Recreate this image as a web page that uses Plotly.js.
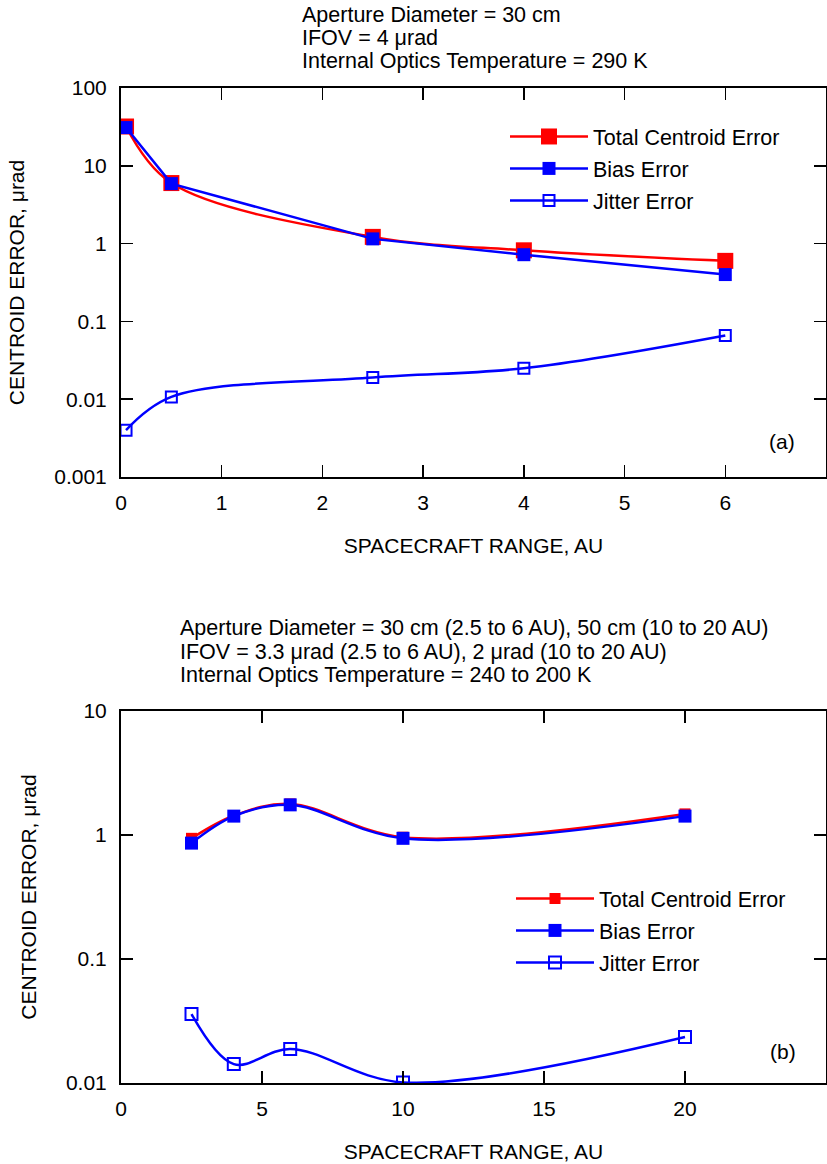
<!DOCTYPE html>
<html><head><meta charset="utf-8">
<script src="https://cdn.plot.ly/plotly-3.0.1.min.js"></script>
<style>body{margin:0;padding:0;background:#fff}#chart{width:827px;height:1164px}</style>
</head><body><div id="chart"></div>
<script>
// Panel (a)
const rangeA = [0.05, 0.5, 2.5, 4, 6];
const totalA = [32, 6.0, 1.22, 0.82, 0.60];
const biasA = [31, 5.9, 1.15, 0.72, 0.40];
const jitterA = [0.004, 0.0107, 0.019, 0.025, 0.066];
// Panel (b)
const rangeB = [2.5, 4, 6, 10, 20];
const totalB = [0.94, 1.43, 1.78, 0.96, 1.48];
const biasB = [0.86, 1.42, 1.75, 0.94, 1.42];
const jitterB = [0.036, 0.0142, 0.0188, 0.0101, 0.0235];

const seriesNames = ['Total Centroid Error', 'Bias Error', 'Jitter Error'];
const xTicksA = [0,1,2,3,4,5,6,7];
const yTicksA = [0.001,0.01,0.1,1,10,100];
const yTickTextA = ['0.001','0.01','0.1','1','10','100'];
const xTicksB = [0,5,10,15,20,25];
const yTicksB = [0.01,0.1,1,10];
const yTickTextB = ['0.01','0.1','1','10'];
const titleA = ['Aperture Diameter = 30 cm','IFOV = 4 \u03bcrad','Internal Optics Temperature = 290 K'];
const titleB = ['Aperture Diameter = 30 cm (2.5 to 6 AU), 50 cm (10 to 20 AU)','IFOV = 3.3 \u03bcrad (2.5 to 6 AU), 2 \u03bcrad (10 to 20 AU)','Internal Optics Temperature = 240 to 200 K'];
const xTitle = 'SPACECRAFT RANGE, AU';
const yTitle = 'CENTROID ERROR, \u03bcrad';

const W = 827, H = 1164;
const FONT = 'Liberation Sans, Arial, Helvetica, sans-serif';
const FS = 21;     // ticks & axis titles
const FT = 21.5;   // header text & legend
const RED = '#ff0000', BLUE = '#0000ff';

const traces = [
  {x: rangeA, y: totalA, name: seriesNames[0], mode:'lines+markers', xaxis:'x', yaxis:'y', legend:'legend', legendgroup:'a1',
   line:{color:RED, width:2.5, shape:'spline'}, marker:{symbol:'square', size:16, color:RED}},
  {x: rangeA, y: biasA, name: seriesNames[1], mode:'lines+markers', xaxis:'x', yaxis:'y', legend:'legend', legendgroup:'a2',
   line:{color:BLUE, width:2.5}, marker:{symbol:'square', size:13, color:BLUE}},
  {x: rangeA, y: jitterA, name: seriesNames[2], mode:'lines+markers', xaxis:'x', yaxis:'y', legend:'legend', legendgroup:'a3',
   line:{color:BLUE, width:2.5, shape:'spline'}, marker:{symbol:'square-open', size:11, color:BLUE, line:{width:2}}},
  {x: rangeB, y: totalB, name: seriesNames[0], mode:'lines+markers', xaxis:'x2', yaxis:'y2', legend:'legend2', legendgroup:'b1',
   line:{color:RED, width:2.5, shape:'spline'}, marker:{symbol:'square', size:11, color:RED}},
  {x: rangeB, y: biasB, name: seriesNames[1], mode:'lines+markers', xaxis:'x2', yaxis:'y2', legend:'legend2', legendgroup:'b2',
   line:{color:BLUE, width:2.5, shape:'spline'}, marker:{symbol:'square', size:13, color:BLUE}},
  {x: rangeB, y: jitterB, name: seriesNames[2], mode:'lines+markers', xaxis:'x2', yaxis:'y2', legend:'legend2', legendgroup:'b3',
   line:{color:BLUE, width:2.5, shape:'spline'}, marker:{symbol:'square-open', size:12, color:BLUE, line:{width:2}}}
];

const xl = 121/W, xr = 826/W;
function yd(top, bottom){ return [1-bottom/H, 1-top/H]; }

const axBase = {showline:true, linecolor:'#000', linewidth:2, mirror:'ticks', ticks:'inside', ticklen:12, tickwidth:1.5, tickcolor:'#000',
  showgrid:false, zeroline:false, tickfont:{family:FONT, size:FS, color:'#000'}, fixedrange:true};

const layout = {
  width:W, height:H, margin:{l:0,r:0,t:0,b:0}, paper_bgcolor:'#fff', plot_bgcolor:'#fff', showlegend:true,
  font:{family:FONT, color:'#000'},
  xaxis: Object.assign({}, axBase, {domain:[xl,xr], range:[0,7], tickvals:xTicksA, ticktext:xTicksA.map(String), anchor:'y',
    ticklabelstandoff:6, title:{text:xTitle, font:{family:FONT, size:FS}, standoff:25}}),
  yaxis: Object.assign({}, axBase, {domain:yd(88,477), type:'log', range:[-3,2], tickvals:yTicksA, ticktext:yTickTextA, anchor:'x',
    ticklabelstandoff:8, title:{text:yTitle, font:{family:FONT, size:FS}, standoff:24}}),
  xaxis2: Object.assign({}, axBase, {domain:[xl,xr], range:[0,25], tickvals:xTicksB, ticktext:xTicksB.map(String), anchor:'y2',
    ticklabelstandoff:6, title:{text:xTitle, font:{family:FONT, size:FS}, standoff:25}}),
  yaxis2: Object.assign({}, axBase, {domain:yd(711,1083), type:'log', range:[-2,1], tickvals:yTicksB, ticktext:yTickTextB, anchor:'x2',
    ticklabelstandoff:8, title:{text:yTitle, font:{family:FONT, size:FS}, standoff:24}}),
  legend: {x:505/W, y:1-116/H, xanchor:'left', yanchor:'top', bgcolor:'rgba(0,0,0,0)', borderwidth:0,
    font:{family:FONT, size:FT, color:'#000'}, itemwidth:78, tracegroupgap:1, traceorder:'grouped'},
  legend2: {x:511/W, y:1-878/H, xanchor:'left', yanchor:'top', bgcolor:'rgba(0,0,0,0)', borderwidth:0,
    font:{family:FONT, size:FT, color:'#000'}, itemwidth:78, tracegroupgap:1, traceorder:'grouped'},
  annotations: [
    {xref:'paper', yref:'paper', x:300/W, y:1-15/H, xanchor:'left', yanchor:'middle', showarrow:false, text:titleA[0], font:{family:FONT,size:FT}},
    {xref:'paper', yref:'paper', x:300/W, y:1-38/H, xanchor:'left', yanchor:'middle', showarrow:false, text:titleA[1], font:{family:FONT,size:FT}},
    {xref:'paper', yref:'paper', x:300/W, y:1-61/H, xanchor:'left', yanchor:'middle', showarrow:false, text:titleA[2], font:{family:FONT,size:FT}},
    {xref:'paper', yref:'paper', x:178/W, y:1-628/H, xanchor:'left', yanchor:'middle', showarrow:false, text:titleB[0], font:{family:FONT,size:FT}},
    {xref:'paper', yref:'paper', x:178/W, y:1-652/H, xanchor:'left', yanchor:'middle', showarrow:false, text:titleB[1], font:{family:FONT,size:FT}},
    {xref:'paper', yref:'paper', x:178/W, y:1-675/H, xanchor:'left', yanchor:'middle', showarrow:false, text:titleB[2], font:{family:FONT,size:FT}},
    {xref:'paper', yref:'paper', x:782/W, y:1-441/H, xanchor:'center', yanchor:'middle', showarrow:false, text:'(a)', font:{family:FONT,size:FS}},
    {xref:'paper', yref:'paper', x:783/W, y:1-1051/H, xanchor:'center', yanchor:'middle', showarrow:false, text:'(b)', font:{family:FONT,size:FS}}
  ]
};

Plotly.newPlot('chart', traces, layout, {staticPlot:true, displayModeBar:false});
</script></body></html>
